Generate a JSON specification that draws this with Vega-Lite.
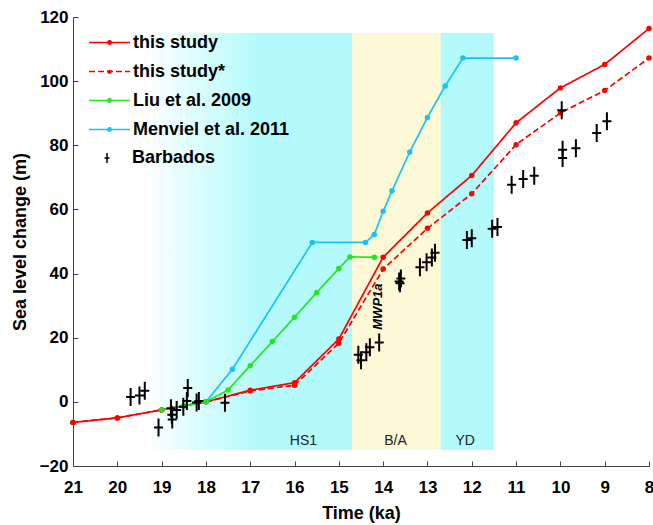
{
  "$schema": "https://vega.github.io/schema/vega-lite/v6.json",
  "width": 576,
  "height": 449,
  "autosize": {"type": "none"},
  "padding": {"left": 73, "top": 17, "right": 4, "bottom": 59},
  "background": "white",
  "config": {
    "view": {"stroke": null},
    "font": "Liberation Sans",
    "axis": {
      "labelFont": "Liberation Sans Narrow, Liberation Sans, Arial",
      "labelFontSize": 17,
      "labelFontWeight": "bold",
      "labelColor": "black",
      "titleFont": "Liberation Sans Narrow, Liberation Sans, Arial",
      "titleFontSize": 18,
      "titleFontWeight": "bold",
      "titleColor": "black",
      "domainColor": "#404040",
      "tickColor": "#404040",
      "tickSize": -5,
      "grid": false,
      "labelOverlap": false,
      "labelFlush": false
    }
  },
  "datasets": {
    "hs1": [{"name": "HS1", "start": 19.4, "end": 14.7}],
    "regions": [
      {"name": "B/A", "start": 14.7, "end": 12.7},
      {"name": "YD", "start": 12.7, "end": 11.5}
    ],
    "regionLabels": [
      {"name": "HS1", "t": 15.8},
      {"name": "B/A", "t": 13.72},
      {"name": "YD", "t": 12.15}
    ],
    "models": [
      {"series": "this study", "t": 21, "sl": -6.4},
      {"series": "this study", "t": 20, "sl": -5},
      {"series": "this study", "t": 19, "sl": -2.5},
      {"series": "this study", "t": 18, "sl": 0},
      {"series": "this study", "t": 17, "sl": 3.6},
      {"series": "this study", "t": 16, "sl": 6},
      {"series": "this study", "t": 15, "sl": 19.6},
      {"series": "this study", "t": 14, "sl": 45.1},
      {"series": "this study", "t": 13, "sl": 58.9},
      {"series": "this study", "t": 12, "sl": 70.6},
      {"series": "this study", "t": 11, "sl": 87},
      {"series": "this study", "t": 10, "sl": 97.9},
      {"series": "this study", "t": 9, "sl": 105.2},
      {"series": "this study", "t": 8, "sl": 116.4},
      {"series": "this study*", "t": 21, "sl": -6.4},
      {"series": "this study*", "t": 20, "sl": -5},
      {"series": "this study*", "t": 19, "sl": -2.5},
      {"series": "this study*", "t": 18, "sl": 0},
      {"series": "this study*", "t": 17, "sl": 3.4},
      {"series": "this study*", "t": 16, "sl": 5.2},
      {"series": "this study*", "t": 15, "sl": 18.3},
      {"series": "this study*", "t": 14, "sl": 41.4},
      {"series": "this study*", "t": 13, "sl": 54.1},
      {"series": "this study*", "t": 12, "sl": 64.9},
      {"series": "this study*", "t": 11, "sl": 80.2},
      {"series": "this study*", "t": 10, "sl": 90.1},
      {"series": "this study*", "t": 9, "sl": 97.1},
      {"series": "this study*", "t": 8, "sl": 107.2},
      {"series": "Menviel et al. 2011", "t": 18, "sl": 0},
      {"series": "Menviel et al. 2011", "t": 17.4, "sl": 10.2},
      {"series": "Menviel et al. 2011", "t": 15.6, "sl": 49.7},
      {"series": "Menviel et al. 2011", "t": 14.4, "sl": 49.7},
      {"series": "Menviel et al. 2011", "t": 14.2, "sl": 52.2},
      {"series": "Menviel et al. 2011", "t": 14.0, "sl": 59.4},
      {"series": "Menviel et al. 2011", "t": 13.8, "sl": 65.8},
      {"series": "Menviel et al. 2011", "t": 13.4, "sl": 77.9},
      {"series": "Menviel et al. 2011", "t": 13.0, "sl": 88.7},
      {"series": "Menviel et al. 2011", "t": 12.6, "sl": 98.5},
      {"series": "Menviel et al. 2011", "t": 12.2, "sl": 107.2},
      {"series": "Menviel et al. 2011", "t": 11.0, "sl": 107.2},
      {"series": "Liu et al. 2009", "t": 19, "sl": -2.5},
      {"series": "Liu et al. 2009", "t": 18.5, "sl": -1.3},
      {"series": "Liu et al. 2009", "t": 18, "sl": 0},
      {"series": "Liu et al. 2009", "t": 17.5, "sl": 3.7},
      {"series": "Liu et al. 2009", "t": 17, "sl": 11.3},
      {"series": "Liu et al. 2009", "t": 16.5, "sl": 18.8},
      {"series": "Liu et al. 2009", "t": 16, "sl": 26.4},
      {"series": "Liu et al. 2009", "t": 15.5, "sl": 34.1},
      {"series": "Liu et al. 2009", "t": 15, "sl": 41.6},
      {"series": "Liu et al. 2009", "t": 14.75, "sl": 45.2},
      {"series": "Liu et al. 2009", "t": 14.2, "sl": 45.1}
    ],
    "barbados": [
      {"t": 19.70, "sl": 1.5},
      {"t": 19.50, "sl": 2.0},
      {"t": 19.38, "sl": 3.5},
      {"t": 19.07, "sl": -8},
      {"t": 18.79, "sl": -2},
      {"t": 18.77, "sl": -4},
      {"t": 18.76, "sl": -5.5},
      {"t": 18.66, "sl": -2.5},
      {"t": 18.51, "sl": -1.5},
      {"t": 18.43, "sl": 0.3},
      {"t": 18.41, "sl": 4.3},
      {"t": 18.21, "sl": -0.2},
      {"t": 18.16, "sl": 0.3},
      {"t": 17.57, "sl": -0.3},
      {"t": 14.56, "sl": 14.7},
      {"t": 14.50, "sl": 13.0},
      {"t": 14.38, "sl": 15.5},
      {"t": 14.30, "sl": 17.0},
      {"t": 14.09, "sl": 18.5},
      {"t": 13.64, "sl": 37.5},
      {"t": 13.60, "sl": 38.5},
      {"t": 13.62, "sl": 37.0},
      {"t": 13.17, "sl": 42},
      {"t": 13.02, "sl": 43.5},
      {"t": 12.90, "sl": 45},
      {"t": 12.83, "sl": 46.5},
      {"t": 12.11, "sl": 50.5},
      {"t": 12.00, "sl": 51},
      {"t": 11.54, "sl": 54},
      {"t": 11.42, "sl": 54.5},
      {"t": 11.10, "sl": 67.7},
      {"t": 10.84, "sl": 69.5},
      {"t": 10.59, "sl": 70.5},
      {"t": 9.95, "sl": 76},
      {"t": 9.95, "sl": 78.6},
      {"t": 9.65, "sl": 79.1},
      {"t": 9.97, "sl": 90.9},
      {"t": 9.18, "sl": 83.8},
      {"t": 8.95, "sl": 87.5}
    ],
    "mwp": [{"label": "MWP1a", "t": 14.11, "sl": 29.7}]
  },
  "layer": [
    {
      "data": {"name": "hs1"},
      "mark": {
        "type": "rect",
        "color": {
          "gradient": "linear",
          "x1": 0, "x2": 1, "y1": 0, "y2": 0,
          "stops": [
            {"offset": 0, "color": "#ffffff"},
            {"offset": 0.55, "color": "#b4fafc"},
            {"offset": 1, "color": "#b4fafc"}
          ]
        }
      },
      "encoding": {
        "x": {
          "field": "start",
          "type": "quantitative",
          "title": "Time (ka)",
          "scale": {"domain": [8, 21], "reverse": true, "nice": false, "zero": false},
          "axis": {
            "values": [8, 9, 10, 11, 12, 13, 14, 15, 16, 17, 18, 19, 20, 21],
            "format": "d",
            "labelPadding": 18,
            "titlePadding": 9
          }
        },
        "x2": {"field": "end"},
        "y": {
          "datum": -15,
          "type": "quantitative",
          "title": "Sea level change (m)",
          "scale": {"domain": [-20, 120], "nice": false, "zero": false},
          "axis": {
            "values": [-20, 0, 20, 40, 60, 80, 100, 120],
            "labelPadding": 10,
            "titlePadding": 10
          }
        },
        "y2": {"datum": 115}
      }
    },
    {
      "data": {"name": "regions"},
      "mark": {"type": "rect"},
      "encoding": {
        "x": {"field": "start", "type": "quantitative", "title": "Time (ka)"},
        "x2": {"field": "end"},
        "y": {"datum": -15, "type": "quantitative", "title": "Sea level change (m)"},
        "y2": {"datum": 115},
        "fill": {
          "field": "name",
          "type": "nominal",
          "scale": {"domain": ["B/A", "YD"], "range": ["#fdf8d5", "#b4fafc"]},
          "legend": null
        }
      }
    },
    {
      "data": {"name": "regionLabels"},
      "mark": {"type": "text", "fontSize": 14, "color": "#222222", "baseline": "middle", "font": "Liberation Sans"},
      "encoding": {
        "x": {"field": "t", "type": "quantitative", "title": "Time (ka)"},
        "y": {"datum": -12.3, "type": "quantitative", "title": "Sea level change (m)"},
        "text": {"field": "name"}
      }
    },
    {
      "data": {"name": "models"},
      "mark": {"type": "line", "strokeWidth": 1.7, "point": {"filled": true, "size": 30}},
      "encoding": {
        "x": {"field": "t", "type": "quantitative", "title": "Time (ka)"},
        "y": {"field": "sl", "type": "quantitative", "title": "Sea level change (m)"},
        "color": {
          "field": "series",
          "type": "nominal",
          "scale": {
            "domain": ["this study", "this study*", "Liu et al. 2009", "Menviel et al. 2011"],
            "range": ["#ff0000", "#ff0000", "#22e622", "#18c4f0"]
          },
          "legend": {
            "orient": "none",
            "legendX": 25,
            "legendY": 14,
            "title": null,
            "padding": 0,
            "symbolType": "M-2,0H2M0.16,0A0.16,0.16 0 1,1 -0.16,0A0.16,0.16 0 1,1 0.16,0",
            "symbolSize": 420,
            "symbolStrokeWidth": 1.7,
            "rowPadding": 8,
            "labelOffset": 12,
            "labelFont": "Liberation Sans Narrow, Liberation Sans, Arial",
            "labelFontSize": 18,
            "labelFontWeight": "bold",
            "labelColor": "black",
            "labelLimit": 300
          }
        },
        "strokeDash": {
          "field": "series",
          "type": "nominal",
          "scale": {
            "domain": ["this study", "this study*", "Liu et al. 2009", "Menviel et al. 2011"],
            "range": [[1, 0], [6, 3], [1, 0], [1, 0]]
          },
          "legend": {
            "orient": "none",
            "legendX": 25,
            "legendY": 14,
            "title": null,
            "padding": 0,
            "symbolType": "M-2,0H2M0.16,0A0.16,0.16 0 1,1 -0.16,0A0.16,0.16 0 1,1 0.16,0",
            "symbolSize": 420,
            "symbolStrokeWidth": 1.7,
            "rowPadding": 8,
            "labelOffset": 12,
            "labelFont": "Liberation Sans Narrow, Liberation Sans, Arial",
            "labelFontSize": 18,
            "labelFontWeight": "bold",
            "labelColor": "black",
            "labelLimit": 300
          }
        }
      }
    },
    {
      "data": {"name": "barbados"},
      "mark": {"type": "point", "filled": false, "color": "black", "strokeWidth": 2, "opacity": 1, "size": 324},
      "encoding": {
        "x": {"field": "t", "type": "quantitative", "title": "Time (ka)"},
        "y": {"field": "sl", "type": "quantitative", "title": "Sea level change (m)"},
        "shape": {
          "datum": "Barbados",
          "type": "nominal",
          "scale": {"domain": ["Barbados"], "range": ["M-0.5,0H0.5M0,-1V1"]},
          "legend": {
            "orient": "none",
            "legendX": 25,
            "legendY": 132,
            "title": null,
            "padding": 0,
            "symbolSize": 100,
            "symbolStrokeColor": "black",
            "symbolStrokeWidth": 1.5,
            "labelOffset": 16,
            "labelFont": "Liberation Sans Narrow, Liberation Sans, Arial",
            "labelFontSize": 18,
            "labelFontWeight": "bold",
            "labelColor": "black",
            "encode": {"symbols": {"update": {"shape": {"value": "M-1,0H1M0,-1V1"}}}}
          }
        }
      }
    },
    {
      "data": {"name": "mwp"},
      "mark": {"type": "text", "angle": 270, "fontSize": 13, "fontStyle": "italic", "fontWeight": "bold", "color": "black", "baseline": "middle", "align": "center"},
      "encoding": {
        "x": {"field": "t", "type": "quantitative", "title": "Time (ka)"},
        "y": {"field": "sl", "type": "quantitative", "title": "Sea level change (m)"},
        "text": {"field": "label"}
      }
    }
  ]
}
